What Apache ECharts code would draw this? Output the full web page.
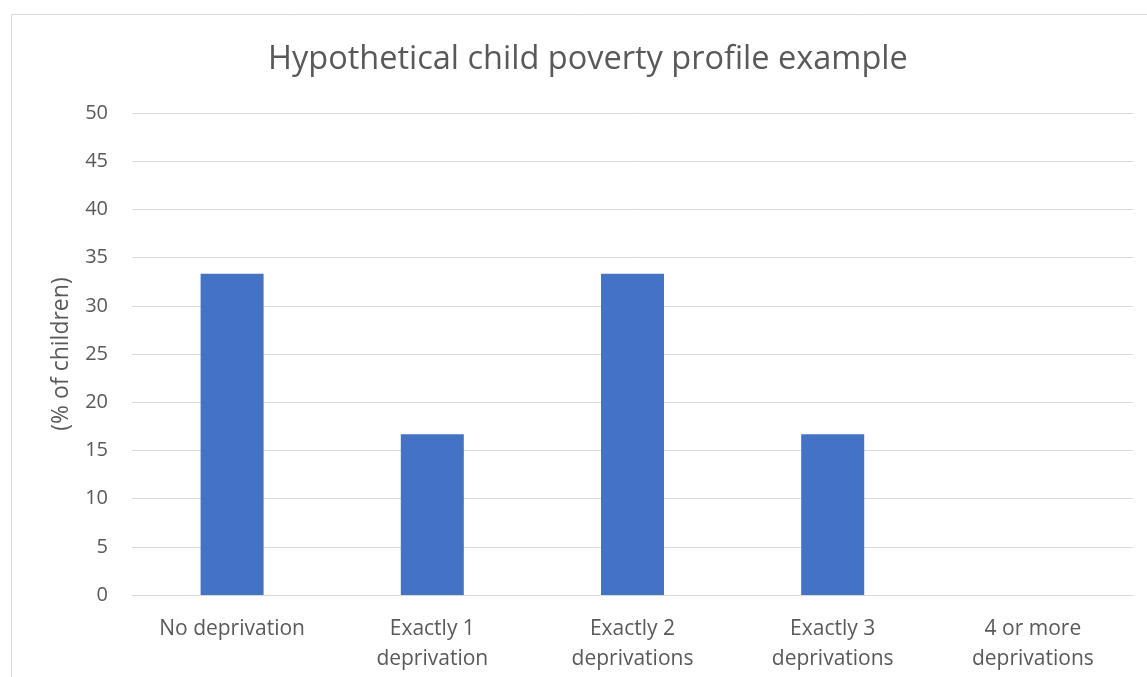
<!DOCTYPE html>
<html><head><meta charset="utf-8">
<script src="https://cdn.jsdelivr.net/npm/echarts@6/dist/echarts.min.js"></script>
<style>html,body{margin:0;padding:0;background:#fff}#c{width:1147px;height:677px}</style>
</head><body><div id="c"></div>
<script>
const categories = ['No deprivation', 'Exactly 1\ndeprivation', 'Exactly 2\ndeprivations', 'Exactly 3\ndeprivations', '4 or more\ndeprivations'];
const values = [33.33, 16.67, 33.33, 16.67, 0];
const titleText = 'Hypothetical child poverty profile example';
const yAxisName = '(% of children)';
const chart = echarts.init(document.getElementById('c'));
const font = '"Open Sans", "Noto Sans", sans-serif';
chart.setOption({
  animation: false,
  graphic: [{type: 'rect', shape: {x: 11.5, y: 14.5, width: 1200, height: 700}, style: {fill: 'none', stroke: '#d9d9d9', lineWidth: 1}, z: -1}],
  title: {text: titleText, left: 263, top: 38, textStyle: {fontFamily: font, fontSize: 32.5, fontWeight: 'normal', color: '#595959'}},
  grid: {left: 132, right: 14, top: 113, bottom: 82, containLabel: false},
  xAxis: {type: 'category', data: categories,
    axisLine: {lineStyle: {color: '#d9d9d9'}}, axisTick: {show: false},
    axisLabel: {fontFamily: font, fontSize: 21, color: '#595959', margin: 19, lineHeight: 30, interval: 0}},
  yAxis: {type: 'value', min: 0, max: 50, interval: 5,
    name: yAxisName, nameLocation: 'middle', nameGap: 59, nameRotate: 90,
    nameTextStyle: {fontFamily: font, fontSize: 23, color: '#595959'},
    axisLine: {show: false}, axisTick: {show: false},
    axisLabel: {fontFamily: font, fontSize: 20, color: '#595959', margin: 24},
    splitLine: {lineStyle: {color: '#d9d9d9', width: 1}}},
  series: [{type: 'bar', data: values, barWidth: 63, itemStyle: {color: '#4472c4'}}]
});
</script></body></html>
